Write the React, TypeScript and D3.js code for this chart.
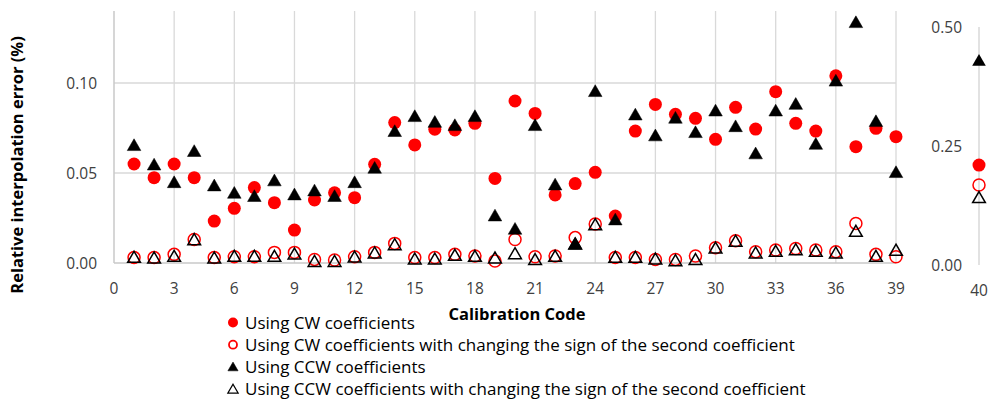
import React, { useEffect, useRef } from 'react'
import * as d3 from 'd3'

// calibration codes in the main panel
const codes = [
  1, 2, 3, 4, 5, 6, 7, 8, 9, 10, 11, 12, 13, 14, 15, 16, 17, 18, 19, 20,
  21, 22, 23, 24, 25, 26, 27, 28, 29, 30, 31, 32, 33, 34, 35, 36, 37, 38, 39
]
const xTicks = [0, 3, 6, 9, 12, 15, 18, 21, 24, 27, 30, 33, 36, 39]
const yTicks = [0, 0.05, 0.1]
const y2Ticks = [0, 0.25, 0.5]

// Using CW coefficients
const cw = [
  0.055, 0.0474, 0.055, 0.0474, 0.0233, 0.0304, 0.0419, 0.0335, 0.0183, 0.035,
  0.039, 0.0363, 0.0548, 0.078, 0.0656, 0.0743, 0.0739, 0.0776, 0.047, 0.09,
  0.0831, 0.0378, 0.0441, 0.0504, 0.0261, 0.0733, 0.0881, 0.0826, 0.0804, 0.0687,
  0.0865, 0.0744, 0.0952, 0.0776, 0.0733, 0.104, 0.0646, 0.0748, 0.0702
]
// Using CW coefficients with changing the sign of the second coefficient
const cwSign = [
  0.003, 0.003, 0.0048, 0.0131, 0.003, 0.0035, 0.0035, 0.0059, 0.0059, 0.002,
  0.0017, 0.0035, 0.0059, 0.0109, 0.003, 0.003, 0.0048, 0.0039, 0.0011, 0.0131,
  0.0035, 0.0039, 0.0141, 0.0217, 0.003, 0.003, 0.002, 0.002, 0.0039, 0.0085,
  0.0124, 0.0063, 0.0072, 0.0081, 0.0072, 0.0063, 0.022, 0.0048, 0.0035
]
// Using CCW coefficients
const ccw = [
  0.0652, 0.0544, 0.0446, 0.0619, 0.0428, 0.0387, 0.0369, 0.0456, 0.0378, 0.04,
  0.0369, 0.0446, 0.0526, 0.073, 0.0813, 0.0781, 0.0763, 0.0813, 0.0261, 0.0187,
  0.0763, 0.0433, 0.0104, 0.0952, 0.0239, 0.0822, 0.0706, 0.0804, 0.0724, 0.0844,
  0.0757, 0.0606, 0.0844, 0.0881, 0.0659, 0.101, 0.1335, 0.0785, 0.0502
]
// Using CCW coefficients with changing the sign of the second coefficient
const ccwSign = [
  0.003, 0.0026, 0.0035, 0.0128, 0.0026, 0.0035, 0.0035, 0.0035, 0.0048, 0.0007,
  0.0007, 0.0031, 0.0054, 0.01, 0.002, 0.002, 0.0041, 0.0035, 0.0026, 0.005,
  0.0017, 0.0035, 0.0104, 0.0211, 0.003, 0.003, 0.002, 0.0011, 0.0017, 0.0081,
  0.0119, 0.0054, 0.0063, 0.0072, 0.0063, 0.0054, 0.0174, 0.0035, 0.0069
]
// code 40, on its own axis
const code40 = { cw: 0.21, cwSign: 0.168, ccw: 0.429, ccwSign: 0.141 }

const legendLabels = [
  'Using CW coefficients',
  'Using CW coefficients with changing the sign of the second coefficient',
  'Using CCW coefficients',
  'Using CCW coefficients with changing the sign of the second coefficient'
]

const RED = '#ff0000'
const GRID = '#d9d9d9'
const FONT = "'Open Sans', 'Noto Sans', sans-serif"

const App = () => {
  const ref = useRef<SVGSVGElement>(null)

  useEffect(() => {
    const svg = d3.select(ref.current)
    svg.selectAll('*').remove()

    const x = d3.scaleLinear().domain([0, 39]).range([114, 896])
    const y = d3.scaleLinear().domain([0, 0.14]).range([263, 11])
    const y2 = d3.scaleLinear().domain([0, 0.5]).range([265, 27])
    const x40 = 979

    // grid
    svg
      .selectAll('.hgrid')
      .data(yTicks.filter((d) => d > 0))
      .enter()
      .append('line')
      .attr('x1', x(0))
      .attr('x2', x(39))
      .attr('y1', (d) => y(d))
      .attr('y2', (d) => y(d))
      .attr('stroke', GRID)
      .attr('stroke-width', 1.3)
    svg
      .selectAll('.vgrid')
      .data(xTicks.filter((d) => d > 0))
      .enter()
      .append('line')
      .attr('x1', (d) => x(d))
      .attr('x2', (d) => x(d))
      .attr('y1', y(0.14))
      .attr('y2', y(0))
      .attr('stroke', GRID)
      .attr('stroke-width', 1.3)
    // axis lines
    svg
      .append('line')
      .attr('x1', x(0))
      .attr('x2', x(39))
      .attr('y1', y(0))
      .attr('y2', y(0))
      .attr('stroke', '#c8c8c8')
      .attr('stroke-width', 1.5)
    svg
      .append('line')
      .attr('x1', x(0))
      .attr('x2', x(0))
      .attr('y1', y(0.14))
      .attr('y2', y(0))
      .attr('stroke', '#c8c8c8')
      .attr('stroke-width', 1.5)
    svg
      .append('line')
      .attr('x1', x40)
      .attr('x2', x40)
      .attr('y1', y2(0.5))
      .attr('y2', y2(0))
      .attr('stroke', GRID)
      .attr('stroke-width', 1.5)

    // tick labels
    svg
      .selectAll('.xlab')
      .data(xTicks)
      .enter()
      .append('text')
      .attr('x', (d) => x(d))
      .attr('y', 294)
      .attr('text-anchor', 'middle')
      .style('font-family', FONT)
      .style('font-size', '15.5px')
      .style('fill', '#404040')
      .text((d) => d)
    svg
      .append('text')
      .attr('x', x40)
      .attr('y', 296)
      .attr('text-anchor', 'middle')
      .style('font-family', FONT)
      .style('font-size', '15.5px')
      .style('fill', '#404040')
      .text('40')
    svg
      .selectAll('.ylab')
      .data(yTicks)
      .enter()
      .append('text')
      .attr('x', 97)
      .attr('y', (d) => y(d) + 5.5)
      .attr('text-anchor', 'end')
      .style('font-family', FONT)
      .style('font-size', '15.5px')
      .style('fill', '#404040')
      .text((d) => d3.format('.2f')(d))
    svg
      .selectAll('.y2lab')
      .data(y2Ticks)
      .enter()
      .append('text')
      .attr('x', 962)
      .attr('y', (d) => y2(d) + 5.5)
      .attr('text-anchor', 'end')
      .style('font-family', FONT)
      .style('font-size', '15.5px')
      .style('fill', '#404040')
      .text((d) => d3.format('.2f')(d))

    // axis titles
    svg
      .append('text')
      .attr('transform', 'translate(23,165) rotate(-90)')
      .attr('text-anchor', 'middle')
      .style('font-family', FONT)
      .style('font-size', '16.5px')
      .style('font-weight', 'bold')
      .text('Relative interpolation error (%)')
    svg
      .append('text')
      .attr('x', 517)
      .attr('y', 320)
      .attr('text-anchor', 'middle')
      .style('font-family', FONT)
      .style('font-size', '16.5px')
      .style('font-weight', 'bold')
      .text('Calibration Code')

    const tri = d3.symbol().type(d3.symbolTriangle).size(80)
    const triOpen = d3.symbol().type(d3.symbolTriangle).size(70)

    // series, drawn in order
    const addCircles = (vals: number[], open: boolean) => {
      svg
        .append('g')
        .selectAll('circle')
        .data(vals)
        .enter()
        .append('circle')
        .attr('cx', (d, i) => x(codes[i]))
        .attr('cy', (d) => y(d))
        .attr('r', open ? 6 : 6.5)
        .attr('fill', open ? 'none' : RED)
        .attr('stroke', open ? RED : 'none')
        .attr('stroke-width', 1.5)
    }
    const addTriangles = (vals: number[], open: boolean) => {
      svg
        .append('g')
        .selectAll('path')
        .data(vals)
        .enter()
        .append('path')
        .attr('d', open ? triOpen() : tri())
        .attr('transform', (d, i) => `translate(${x(codes[i])},${y(d) + 1})`)
        .attr('fill', open ? 'none' : '#000')
        .attr('stroke', '#000')
        .attr('stroke-width', open ? 1.5 : 0.5)
    }
    addCircles(cw, false)
    addCircles(cwSign, true)
    addTriangles(ccw, false)
    addTriangles(ccwSign, true)

    // code 40
    svg
      .append('circle')
      .attr('cx', x40)
      .attr('cy', y2(code40.cw))
      .attr('r', 6.5)
      .attr('fill', RED)
    svg
      .append('circle')
      .attr('cx', x40)
      .attr('cy', y2(code40.cwSign))
      .attr('r', 6)
      .attr('fill', 'none')
      .attr('stroke', RED)
      .attr('stroke-width', 1.5)
    svg
      .append('path')
      .attr('d', tri())
      .attr('transform', `translate(${x40},${y2(code40.ccw) + 1})`)
      .attr('fill', '#000')
    svg
      .append('path')
      .attr('d', triOpen())
      .attr('transform', `translate(${x40},${y2(code40.ccwSign) + 1})`)
      .attr('fill', 'none')
      .attr('stroke', '#000')
      .attr('stroke-width', 1.5)

    // legend
    const lg = svg
      .selectAll('.legend')
      .data(legendLabels)
      .enter()
      .append('g')
      .attr('transform', (d, i) => `translate(0,${322.5 + i * 22.2})`)
    lg.append('text')
      .attr('x', 245)
      .attr('y', 6)
      .style('font-family', FONT)
      .style('font-size', '17px')
      .style('fill', '#000')
      .text((d) => d)
    lg.each(function (d, i) {
      const g = d3.select(this)
      if (i === 0) {
        g.append('circle').attr('cx', 233).attr('cy', 0).attr('r', 5).attr('fill', RED)
      } else if (i === 1) {
        g.append('circle')
          .attr('cx', 233)
          .attr('cy', 0)
          .attr('r', 4)
          .attr('fill', 'none')
          .attr('stroke', RED)
          .attr('stroke-width', 1.8)
      } else {
        g.append('path')
          .attr('d', d3.symbol().type(d3.symbolTriangle).size(45)())
          .attr('transform', 'translate(233,1)')
          .attr('fill', i === 2 ? '#000' : 'none')
          .attr('stroke', '#000')
          .attr('stroke-width', i === 2 ? 0.5 : 1.3)
      }
    })
  }, [])

  return (
    <svg
      ref={ref}
      width={995}
      height={401}
      style={{ position: 'absolute', left: 0, top: 0, background: '#fff' }}
    />
  )
}

export default App
